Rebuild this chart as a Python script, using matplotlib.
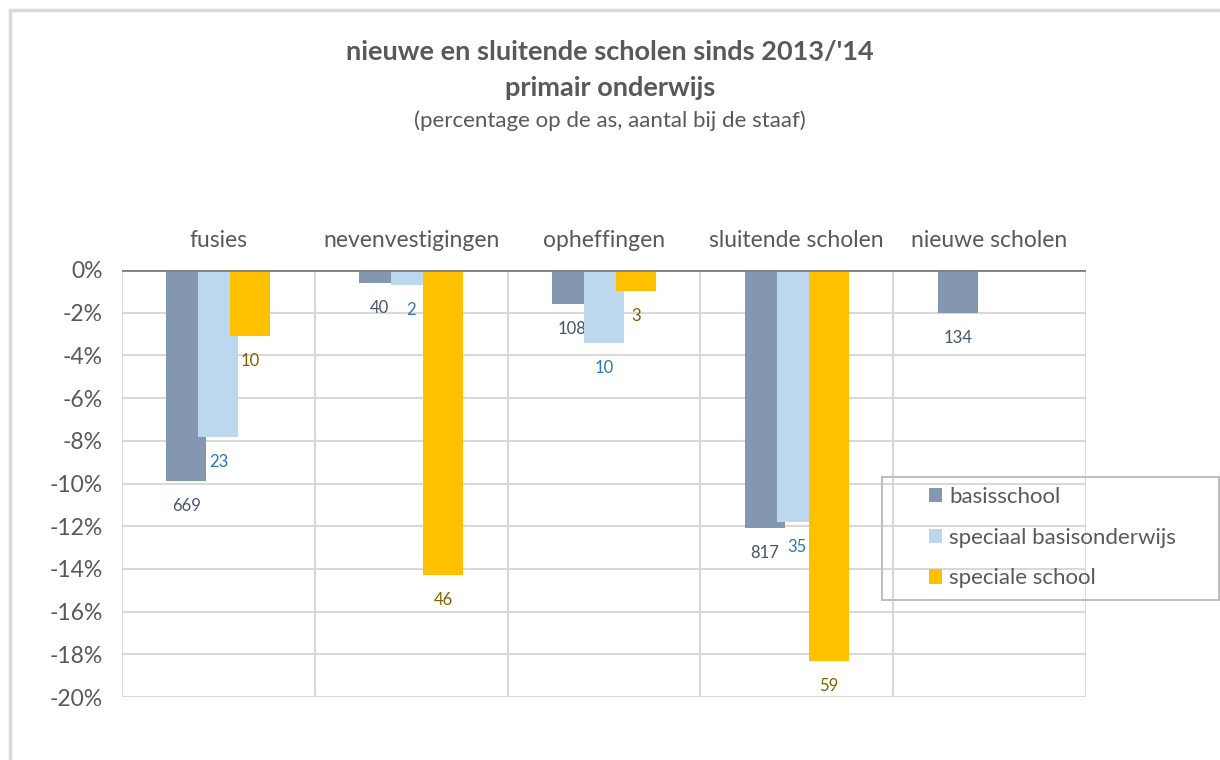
import numpy as np
import matplotlib.pyplot as plt
from matplotlib.patches import Rectangle

plt.rcParams['font.family'] = ['Lato', 'DejaVu Sans']

categories = ['fusies', 'nevenvestigingen', 'opheffingen', 'sluitende scholen', 'nieuwe scholen']
series = ['basisschool', 'speciaal basisonderwijs', 'speciale school']

# percentage per series (y-axis), counts as bar labels
pct_basis = [-9.9, -0.6, -1.6, -12.1, -2.0]
pct_sbo = [-7.8, -0.7, -3.4, -11.8, np.nan]
pct_so = [-3.1, -14.3, -1.0, -18.3, np.nan]

n_basis = [669, 40, 108, 817, 134]
n_sbo = [23, 2, 10, 35, None]
n_so = [10, 46, 3, 59, None]

bar_colors = ['#8497B0', '#BDD7EE', '#FFC000']
label_colors = ['#44546A', '#2E75B6', '#7F6000']
grey = '#595959'

fig = plt.figure(figsize=(12.2, 7.6), dpi=100)
# outer chart border (runs off the right and bottom edge)
fig.patches.append(Rectangle((10 / 1220, -0.1), 1.2, 1.1 - 10 / 760,
                             transform=fig.transFigure, fill=False,
                             edgecolor='#D9D9D9', lw=2.5))

ax = fig.add_axes([122 / 1220, 63 / 760, 964 / 1220, 427 / 760])

x = np.arange(len(categories))
w = 0.207
step = 0.166
values = [pct_basis, pct_sbo, pct_so]
counts = [n_basis, n_sbo, n_so]
for i, (vals, cnt) in enumerate(zip(values, counts)):
    pos = x + (i - 1) * step
    ax.bar(pos, vals, width=w, color=bar_colors[i], label=series[i], zorder=3 + i)
    for p, v, c in zip(pos, vals, cnt):
        if c is None:
            continue
        ax.annotate(str(c), (p, v), xytext=(0, -18), textcoords='offset points',
                    ha='center', va='center', fontsize=12, color=label_colors[i])

ax.set_xlim(-0.5, len(categories) - 0.5)
ax.set_ylim(-20, 0)
yt = np.arange(-20, 1, 2)
ax.set_yticks(yt)
ax.set_yticklabels(['%d%%' % v for v in yt])
ax.grid(axis='y', color='#D9D9D9', lw=1.5, zorder=0)
for b in np.arange(-0.5, len(categories), 1):
    ax.axvline(b, color='#D9D9D9', lw=1.5, zorder=0)
ax.axhline(0, color='#808080', lw=2, zorder=10)

ax.xaxis.tick_top()
ax.set_xticks(x)
ax.set_xticklabels(categories)
ax.tick_params(axis='x', length=0, pad=14, labelsize=16.5, labelcolor=grey)
ax.tick_params(axis='y', length=0, pad=14, labelsize=16.5, labelcolor=grey)
for s in ax.spines.values():
    s.set_visible(False)

# legend frame drawn separately so it can be sized like the original
fig.patches.append(Rectangle((882 / 1220, 1 - 600 / 760), 337 / 1220, 123 / 760,
                             transform=fig.transFigure, fill=False,
                             edgecolor='#BFBFBF', lw=1.5, zorder=20))
leg = ax.legend(loc='upper left', bbox_to_anchor=(929 / 1220, 1 - 487 / 760),
                bbox_transform=fig.transFigure, frameon=False, fontsize=16,
                handlelength=0.6, handleheight=0.6, labelspacing=0.93,
                borderpad=0, handletextpad=0.3, borderaxespad=0)
leg.set_zorder(20)
for t in leg.get_texts():
    t.set_color(grey)

fig.text(0.5, 1 - 52 / 760, "nieuwe en sluitende scholen sinds 2013/'14", ha='center', va='center',
         fontsize=19.5, fontweight='bold', color=grey)
fig.text(0.5, 1 - 88 / 760, 'primair onderwijs', ha='center', va='center',
         fontsize=19.5, fontweight='bold', color=grey)
fig.text(0.5, 1 - 121 / 760, '(percentage op de as, aantal bij de staaf)', ha='center', va='center',
         fontsize=16, color=grey)

fig.savefig('out.png', dpi=100)
